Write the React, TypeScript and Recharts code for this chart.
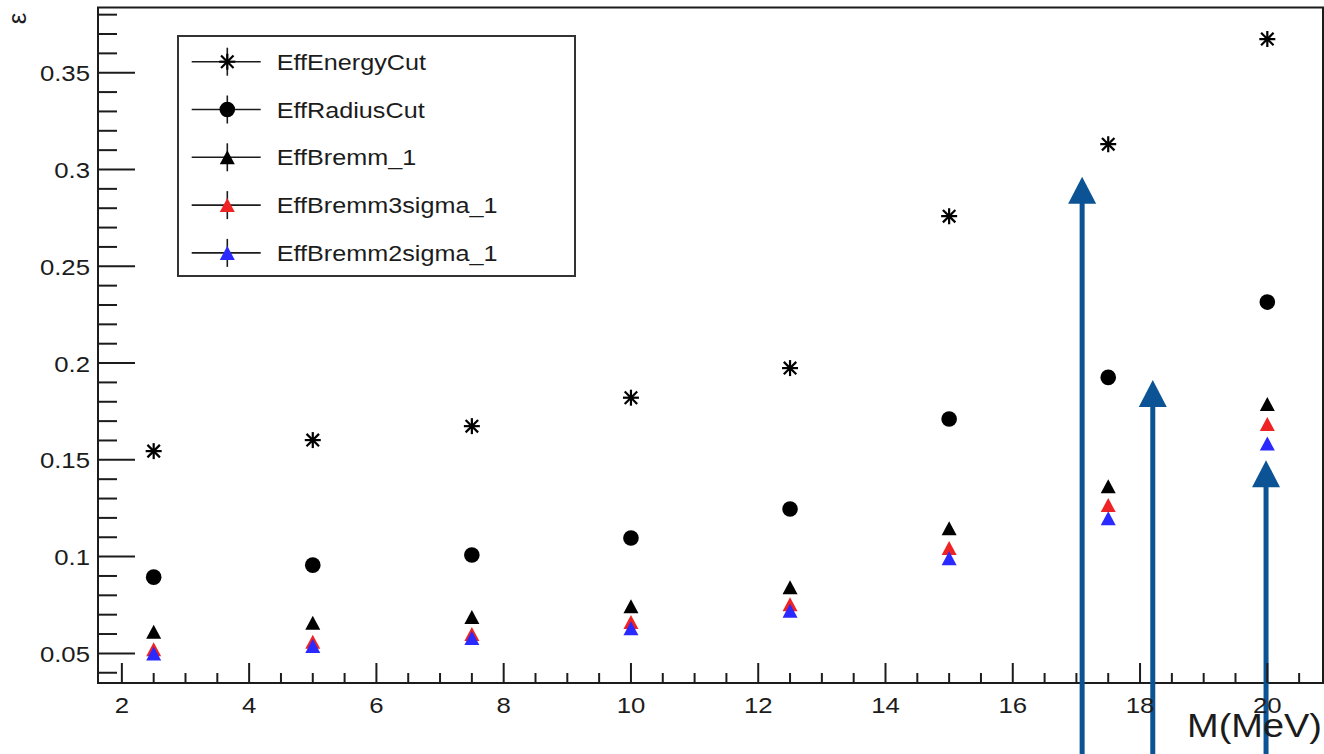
import React from 'react';
import {
  ScatterChart,
  Scatter,
  XAxis,
  YAxis,
  ReferenceArea,
  ReferenceLine,
  Legend,
  Label,
} from 'recharts';

// Signal mass points (MeV)
const masses = [2.5, 5, 7.5, 10, 12.5, 15, 17.5, 20];

// Selection efficiencies per cut
const effEnergyCut = [0.1545, 0.1602, 0.1674, 0.1821, 0.1974, 0.2759, 0.3131, 0.3674];
const effRadiusCut = [0.0894, 0.0956, 0.1008, 0.1096, 0.1246, 0.1711, 0.1926, 0.2315];
const effBremm1 = [0.0612, 0.0658, 0.0688, 0.0744, 0.0842, 0.1147, 0.1364, 0.1788];
const effBremm3sigma1 = [0.0522, 0.056, 0.060, 0.0662, 0.0754, 0.1044, 0.1266, 0.1685];
const effBremm2sigma1 = [0.050, 0.0538, 0.0579, 0.063, 0.072, 0.0992, 0.1198, 0.1585];

// Axis ranges and ticks
const X_MIN = 1.625;
const X_MAX = 20.875;
const Y_MIN = 0.0347;
const Y_MAX = 0.3837;

const xMajorTicks = [2, 4, 6, 8, 10, 12, 14, 16, 18, 20];
const xTickLabels = ['2', '4', '6', '8', '10', '12', '14', '16', '18', '20'];
const xMinorStep = 0.5;

const yMajorTicks = [0.05, 0.1, 0.15, 0.2, 0.25, 0.3, 0.35];
const yTickLabels = ['0.05', '0.1', '0.15', '0.2', '0.25', '0.3', '0.35'];
const yMinorStep = 0.01;

const stepTicks = (lo: number, hi: number, step: number) => {
  const out: number[] = [];
  const n = Math.floor((hi - lo) / step + 1e-9);
  for (let i = 0; i <= n; i++) out.push(Math.round((lo + i * step) * 1000) / 1000);
  return out;
};
const xAllTicks = stepTicks(2, 20.5, xMinorStep);
const yAllTicks = stepTicks(0.04, 0.38, yMinorStep);

// Annotation arrows: mass position and tip height
const arrowX = [17.09, 18.2, 19.98];
const arrowTipY = [0.2962, 0.1912, 0.1498];
const arrowBaseY = -0.01;

const INK = '#1c1c1c';
const ARROW = '#0b5394';
const FONT = '"Liberation Sans", Arial, Helvetica, sans-serif';
const SX = 1.12;

type MarkerKind = 'star' | 'circle' | 'triangle';

const seriesList: { name: string; values: number[]; color: string; marker: MarkerKind }[] = [
  { name: 'EffEnergyCut', values: effEnergyCut, color: '#000000', marker: 'star' },
  { name: 'EffRadiusCut', values: effRadiusCut, color: '#000000', marker: 'circle' },
  { name: 'EffBremm_1', values: effBremm1, color: '#000000', marker: 'triangle' },
  { name: 'EffBremm3sigma_1', values: effBremm3sigma1, color: '#ee2424', marker: 'triangle' },
  { name: 'EffBremm2sigma_1', values: effBremm2sigma1, color: '#2a2aff', marker: 'triangle' },
];

const drawMarker = (kind: MarkerKind, cx: number, cy: number, color: string) => {
  if (kind === 'star') {
    const r = 8;
    const d = r * 0.78;
    return (
      <g stroke={color} strokeWidth={2.2}>
        <line x1={cx - r} y1={cy} x2={cx + r} y2={cy} />
        <line x1={cx} y1={cy - r} x2={cx} y2={cy + r} />
        <line x1={cx - d} y1={cy - d} x2={cx + d} y2={cy + d} />
        <line x1={cx - d} y1={cy + d} x2={cx + d} y2={cy - d} />
        <circle cx={cx} cy={cy} r={2.5} fill={color} stroke="none" />
      </g>
    );
  }
  if (kind === 'circle') {
    return <circle cx={cx} cy={cy} r={7.8} fill={color} />;
  }
  const w = 7.5;
  const h = 7;
  return (
    <polygon
      points={`${cx - w},${cy + h} ${cx + w},${cy + h} ${cx},${cy - h}`}
      fill={color}
    />
  );
};

const makeShape = (kind: MarkerKind, color: string) => (props: any) => {
  const { cx, cy } = props;
  if (cx == null || cy == null) return <g />;
  return drawMarker(kind, cx, cy, color);
};

const XTick = (props: any) => {
  const { x, y, payload } = props;
  const v = payload.value;
  const idx = xMajorTicks.findIndex((t) => Math.abs(t - v) < 1e-6);
  const major = idx >= 0;
  return (
    <g>
      <line x1={x} y1={y} x2={x} y2={y - (major ? 20 : 10)} stroke={INK} strokeWidth={2} />
      {major && (
        <text
          transform={`translate(${x},${y + 30}) scale(${SX},1)`}
          textAnchor="middle"
          fontFamily={FONT}
          fontSize={23}
          fill={INK}
        >
          {xTickLabels[idx]}
        </text>
      )}
    </g>
  );
};

const YTick = (props: any) => {
  const { x, y, payload } = props;
  const v = payload.value;
  const idx = yMajorTicks.findIndex((t) => Math.abs(t - v) < 1e-6);
  const major = idx >= 0;
  return (
    <g>
      <line x1={x} y1={y} x2={x + (major ? 37 : 19)} y2={y} stroke={INK} strokeWidth={2} />
      {major && (
        <text
          transform={`translate(${x - 8},${y + 8.5}) scale(${SX},1)`}
          textAnchor="end"
          fontFamily={FONT}
          fontSize={23}
          fill={INK}
        >
          {yTickLabels[idx]}
        </text>
      )}
    </g>
  );
};

const ArrowShape = (props: any) => {
  const { x1, y1, x2, y2 } = props;
  if ([x1, y1, x2, y2].some((v) => v == null || Number.isNaN(v))) return <g />;
  const tipX = y1 < y2 ? x1 : x2;
  const tipY = Math.min(y1, y2);
  const baseY = Math.max(y1, y2);
  const headH = 27;
  const headW = 14;
  return (
    <g>
      <line x1={tipX} y1={baseY} x2={tipX} y2={tipY + headH - 1} stroke={ARROW} strokeWidth={5} />
      <polygon
        points={`${tipX},${tipY} ${tipX - headW},${tipY + headH} ${tipX + headW},${tipY + headH}`}
        fill={ARROW}
      />
    </g>
  );
};

const EpsilonLabel = (props: any) => {
  const vb = props.viewBox || { x: 0, y: 0 };
  const cx = vb.x + 17;
  const cy = vb.y + 11;
  return (
    <text
      transform={`translate(${cx},${cy}) rotate(-90)`}
      textAnchor="middle"
      dominantBaseline="central"
      fontFamily={FONT}
      fontSize={26}
      fill={INK}
    >
      ε
    </text>
  );
};

const MassLabel = (props: any) => {
  const vb = props.viewBox || { x: 0, y: 0, width: 0, height: 0 };
  const x = vb.x + vb.width - 1;
  const y = vb.y + 54;
  return (
    <text
      transform={`translate(${x},${y}) scale(1.15,1)`}
      textAnchor="end"
      fontFamily={FONT}
      fontSize={33}
      fill={INK}
    >
      M(MeV)
    </text>
  );
};

const LegendBox = () => {
  const rowY0 = 26.7;
  const rowStep = 47.8;
  return (
    <svg width={400} height={243} style={{ display: 'block' }}>
      <rect x={1} y={1} width={397} height={240} fill="#ffffff" stroke="#333333" strokeWidth={2} />
      {seriesList.map((s, i) => {
        const cy = rowY0 + i * rowStep;
        const mx = 50.3;
        return (
          <g key={s.name}>
            <line x1={14.7} y1={cy} x2={83.7} y2={cy} stroke={INK} strokeWidth={1.6} />
            <line x1={mx} y1={cy - 14} x2={mx} y2={cy + 14} stroke={INK} strokeWidth={1.6} />
            {drawMarker(s.marker, mx, cy, s.color)}
            <text
              transform={`translate(${99.7},${cy + 8}) scale(${SX},1)`}
              fontFamily={FONT}
              fontSize={22.5}
              fill={INK}
            >
              {s.name}
            </text>
          </g>
        );
      })}
    </svg>
  );
};

export default function App() {
  return (
    <div style={{ position: 'absolute', left: 0, top: 0, width: 1324, height: 754, background: '#fff' }}>
      <ScatterChart width={1324} height={754} margin={{ top: 7.5, right: 1, bottom: 0, left: 0 }}>
        <XAxis
          type="number"
          dataKey="x"
          domain={[X_MIN, X_MAX]}
          ticks={xAllTicks}
          interval={0}
          tick={XTick}
          tickLine={false}
          axisLine={false}
          tickSize={0}
          tickMargin={0}
          height={71}
          allowDataOverflow
        >
          <Label content={MassLabel} />
        </XAxis>
        <YAxis
          type="number"
          dataKey="y"
          domain={[Y_MIN, Y_MAX]}
          ticks={yAllTicks}
          interval={0}
          tick={YTick}
          tickLine={false}
          axisLine={false}
          tickSize={0}
          tickMargin={0}
          width={98}
          allowDataOverflow
        >
          <Label content={EpsilonLabel} />
        </YAxis>
        <ReferenceArea
          x1={X_MIN}
          x2={X_MAX}
          y1={Y_MIN}
          y2={Y_MAX}
          fill="none"
          stroke={INK}
          strokeWidth={2}
          fillOpacity={0}
          ifOverflow="visible"
        />
        {seriesList.map((s) => (
          <Scatter
            key={s.name}
            name={s.name}
            data={masses.map((m, i) => ({ x: m, y: s.values[i] }))}
            fill={s.color}
            shape={makeShape(s.marker, s.color)}
            isAnimationActive={false}
          />
        ))}
        {arrowX.map((ax, i) => (
          <ReferenceLine
            key={`arrow-${i}`}
            segment={[
              { x: ax, y: arrowBaseY },
              { x: ax, y: arrowTipY[i] },
            ]}
            ifOverflow="visible"
            shape={ArrowShape}
          />
        ))}
        <Legend
          layout="vertical"
          align="center"
          verticalAlign="middle"
          content={LegendBox}
          wrapperStyle={{ left: 177, top: 35, width: 400, height: 243 }}
        />
      </ScatterChart>
    </div>
  );
}
